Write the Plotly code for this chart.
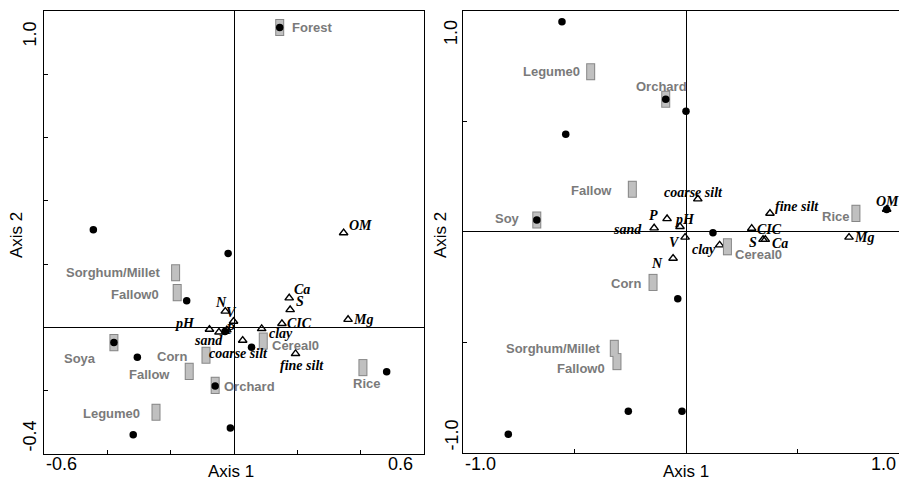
import plotly.graph_objects as go

# ---------------- DATA ----------------
# Left panel (Axis 1: -0.6..0.6, Axis 2: -0.4..1.0)
left_site_x = [0.144, -0.445, -0.019, -0.150, -0.029, -0.380, -0.306, 0.055, -0.060, 0.482, -0.012, -0.319]
left_site_y = [0.948, 0.309, 0.234, 0.084, -0.013, -0.048, -0.094, -0.063, -0.185, -0.140, -0.318, -0.339]

left_cat_names = ["Forest", "Sorghum/Millet", "Fallow0", "Soya", "Corn", "Fallow", "Orchard", "Legume0", "Cereal0", "Rice"]
left_cat_x = [0.144, -0.185, -0.180, -0.380, -0.089, -0.142, -0.060, -0.247, 0.092, 0.407]
left_cat_y = [0.948, 0.173, 0.110, -0.048, -0.088, -0.139, -0.183, -0.268, -0.043, -0.127]

left_env_names = ["OM", "Ca", "S", "N", "V", "CIC", "Mg", "pH", "P", "sand", "clay", "coarse silt", "fine silt"]
left_env_x = [0.346, 0.174, 0.177, -0.028, -0.002, 0.151, 0.360, -0.078, -0.023, -0.048, 0.087, 0.027, 0.194]
left_env_y = [0.299, 0.093, 0.056, 0.051, 0.019, 0.012, 0.025, -0.006, -0.008, -0.015, -0.004, -0.041, -0.083]

# Right panel (Axis 1: -1.0..1.0, Axis 2: -1.0..1.0)
right_site_x = [-0.557, -0.540, -0.091, 0.000, -0.670, 0.121, -0.037, -0.259, -0.018, -0.798, 0.901]
right_site_y = [0.949, 0.441, 0.599, 0.545, 0.053, -0.005, -0.303, -0.811, -0.811, -0.915, 0.101]

right_cat_names = ["Legume0", "Orchard", "Fallow", "Soy", "Corn", "Sorghum/Millet", "Fallow0", "Cereal0", "Rice"]
right_cat_x = [-0.428, -0.091, -0.241, -0.670, -0.148, -0.322, -0.310, 0.186, 0.763]
right_cat_y = [0.723, 0.599, 0.192, 0.053, -0.229, -0.527, -0.587, -0.068, 0.083]

right_env_names = ["coarse silt", "fine silt", "P", "pH", "sand", "V", "N", "clay", "CIC", "S", "Ca", "Mg", "OM"]
right_env_x = [0.053, 0.377, -0.085, -0.027, -0.143, -0.004, -0.058, 0.151, 0.295, 0.346, 0.356, 0.732, 0.901]
right_env_y = [0.148, 0.083, 0.059, 0.023, 0.017, -0.025, -0.120, -0.060, 0.015, -0.035, -0.035, -0.025, 0.101]

left_x_ticks = ["-0.6", "0.6"]
left_y_ticks = ["-0.4", "1.0"]
right_x_ticks = ["-1.0", "1.0"]
right_y_ticks = ["-1.0", "1.0"]
axis_titles = ["Axis 1", "Axis 2"]

# ---------------- STYLE (label placement in px: anchor, dx, dy) ----------------
left_cat_style = {
    "Forest": ("left", 10, 0), "Sorghum/Millet": ("right", -13, 0), "Fallow0": ("right", -16, -2),
    "Soya": ("right", -16, -16), "Corn": ("right", -17, -1), "Fallow": ("right", -17, -3),
    "Orchard": ("left", 7, -1), "Legume0": ("right", -14, -1), "Cereal0": ("left", 7, -4),
    "Rice": ("center", 4, -16),
}
left_env_style = {
    "OM": ("left", 3, 7), "Ca": ("left", 3, 9), "S": ("left", 4, 8), "N": ("center", -4, 9),
    "V": ("center", -2, 9), "CIC": ("left", 3, 0), "Mg": ("left", 3, 0), "pH": ("right", -12, 6),
    "P": ("center", 4, 0), "sand": ("center", -10, -8), "clay": ("left", 5, -5),
    "coarse silt": ("center", -4, -13), "fine silt": ("center", 6, -12),
}
right_cat_style = {
    "Legume0": ("right", -9, 0), "Orchard": ("center", -4, 13), "Fallow": ("right", -18, -1),
    "Soy": ("right", -15, 2), "Corn": ("right", -10, -1), "Sorghum/Millet": ("right", -11, 0),
    "Fallow0": ("right", -10, -7), "Cereal0": ("left", 6, -8), "Rice": ("right", -5, -3),
}
right_env_style = {
    "coarse silt": ("center", -4, 7), "fine silt": ("left", 3, 7), "P": ("center", -14, 3),
    "pH": ("left", -7, 7), "sand": ("right", -10, -2), "V": ("center", -11, -5),
    "N": ("center", -16, -5), "clay": ("right", -2, -4), "CIC": ("left", 3, -1),
    "S": ("right", -4, -3), "Ca": ("left", 5, -4), "Mg": ("left", 3, 0), "OM": ("center", 1, 8),
}

W, H = 899, 483
SANS = "Liberation Sans, Arial, sans-serif"
SERIF = "Liberation Serif, Times New Roman, serif"
GRAY_TXT = "#7a7a7a"
RECT_EDGE = "#868686"
RECT_FILL = "#c0c0c0"

fig = go.Figure()


def add_panel(xr, yr, site_x, site_y, cat_names, cat_x, cat_y, env_names, env_x, env_y,
              cat_style, env_style):
    # environmental variables: open triangles
    fig.add_trace(go.Scatter(x=env_x, y=env_y, mode="markers", xaxis=xr, yaxis=yr,
                             marker=dict(symbol="triangle-up-open", size=7.5, color="black",
                                         line=dict(width=1.4, color="black")),
                             hoverinfo="skip"))
    # category centroids: grey vertical rectangles (border then fill)
    fig.add_trace(go.Scatter(x=cat_x, y=cat_y, mode="markers", xaxis=xr, yaxis=yr,
                             marker=dict(symbol="line-ns", size=12.2, color=RECT_EDGE,
                                         line=dict(width=9, color=RECT_EDGE)),
                             hoverinfo="skip"))
    fig.add_trace(go.Scatter(x=cat_x, y=cat_y, mode="markers", xaxis=xr, yaxis=yr,
                             marker=dict(symbol="line-ns", size=10.8, color=RECT_FILL,
                                         line=dict(width=7, color=RECT_FILL)),
                             hoverinfo="skip"))
    # sites: black dots
    fig.add_trace(go.Scatter(x=site_x, y=site_y, mode="markers", xaxis=xr, yaxis=yr,
                             marker=dict(symbol="circle", size=7.5, color="black"),
                             hoverinfo="skip"))
    for n, x, y in zip(cat_names, cat_x, cat_y):
        anc, dx, dy = cat_style[n]
        fig.add_annotation(x=x, y=y, xref=xr, yref=yr, text="<b>%s</b>" % n, showarrow=False,
                           xanchor=anc, yanchor="middle", xshift=dx, yshift=dy,
                           font=dict(family=SANS, size=13, color=GRAY_TXT))
    for n, x, y in zip(env_names, env_x, env_y):
        anc, dx, dy = env_style[n]
        fig.add_annotation(x=x, y=y, xref=xr, yref=yr, text="<b><i>%s</i></b>" % n, showarrow=False,
                           xanchor=anc, yanchor="middle", xshift=dx, yshift=dy,
                           font=dict(family=SERIF, size=14, color="black"))


add_panel("x", "y", left_site_x, left_site_y, left_cat_names, left_cat_x, left_cat_y,
          left_env_names, left_env_x, left_env_y, left_cat_style, left_env_style)
add_panel("x2", "y2", right_site_x, right_site_y, right_cat_names, right_cat_x, right_cat_y,
          right_env_names, right_env_x, right_env_y, right_cat_style, right_env_style)

axis_common = dict(showgrid=False, zeroline=True, zerolinecolor="black", zerolinewidth=1,
                   showline=True, linecolor="black", linewidth=1, ticks="inside", ticklen=4,
                   tickcolor="black", tickwidth=1, showticklabels=False)

fig.update_layout(
    width=W, height=H, margin=dict(l=0, r=0, t=0, b=0),
    paper_bgcolor="white", plot_bgcolor="white", showlegend=False,
    xaxis=dict(domain=[44.3 / W, 424 / W], range=[-0.6, 0.6], dtick=0.2, tick0=0, mirror=True,
               anchor="y", **axis_common),
    yaxis=dict(domain=[(H - 454) / H, (H - 11) / H], range=[-0.4, 1.0], dtick=0.2, tick0=0,
               mirror=True, anchor="x", **axis_common),
    xaxis2=dict(domain=[463.3 / W, 1.0], range=[-1.0, -1.0 + 435.7 / 222.7], dtick=0.5, tick0=0,
                mirror=True, anchor="y2", **axis_common),
    yaxis2=dict(domain=[(H - 453) / H, (H - 10.5) / H], range=[-1.0, 1.0], dtick=0.5, tick0=0,
                mirror=False, anchor="x2", **axis_common),
)

tick_font = dict(family=SANS, size=18, color="black")
title_font = dict(family=SANS, size=17, color="black")
ty = (H - 464) / H
# x tick labels (end values only)
fig.add_annotation(x=-0.6, y=ty, xref="x", yref="paper", text=left_x_ticks[0], showarrow=False,
                   xanchor="left", yanchor="middle", font=tick_font)
fig.add_annotation(x=0.6, y=ty, xref="x", yref="paper", text=left_x_ticks[1], showarrow=False,
                   xanchor="right", yanchor="middle", xshift=-9, font=tick_font)
fig.add_annotation(x=-1.0, y=ty, xref="x2", yref="paper", text=right_x_ticks[0], showarrow=False,
                   xanchor="left", yanchor="middle", font=tick_font)
fig.add_annotation(x=1.0, y=ty, xref="paper", yref="paper", text=right_x_ticks[1], showarrow=False,
                   xanchor="right", yanchor="middle", xshift=-1, font=tick_font)
# y tick labels (rotated)
fig.add_annotation(x=29 / W, y=-0.4, xref="paper", yref="y", text=left_y_ticks[0], showarrow=False,
                   textangle=-90, xanchor="center", yanchor="bottom", font=tick_font)
fig.add_annotation(x=29 / W, y=1.0, xref="paper", yref="y", text=left_y_ticks[1], showarrow=False,
                   textangle=-90, xanchor="center", yanchor="top", yshift=-9, font=tick_font)
fig.add_annotation(x=451 / W, y=-1.0, xref="paper", yref="y2", text=right_y_ticks[0], showarrow=False,
                   textangle=-90, xanchor="center", yanchor="bottom", font=tick_font)
fig.add_annotation(x=451 / W, y=1.0, xref="paper", yref="y2", text=right_y_ticks[1], showarrow=False,
                   textangle=-90, xanchor="center", yanchor="top", yshift=-8, font=tick_font)
# axis titles
fig.add_annotation(x=0, y=(H - 471) / H, xref="x", yref="paper", text=axis_titles[0], showarrow=False,
                   xanchor="center", yanchor="middle", xshift=-3, font=title_font)
fig.add_annotation(x=0, y=(H - 471) / H, xref="x2", yref="paper", text=axis_titles[0], showarrow=False,
                   xanchor="center", yanchor="middle", font=title_font)
fig.add_annotation(x=17 / W, y=(H - 235) / H, xref="paper", yref="paper", text=axis_titles[1],
                   showarrow=False, textangle=-90, xanchor="center", yanchor="middle", font=title_font)
fig.add_annotation(x=441 / W, y=(H - 235) / H, xref="paper", yref="paper", text=axis_titles[1],
                   showarrow=False, textangle=-90, xanchor="center", yanchor="middle", font=title_font)

fig.write_html("out.html", config={"displayModeBar": False, "staticPlot": True},
               post_script="document.body.style.margin='0px';document.body.style.overflow='hidden';")
